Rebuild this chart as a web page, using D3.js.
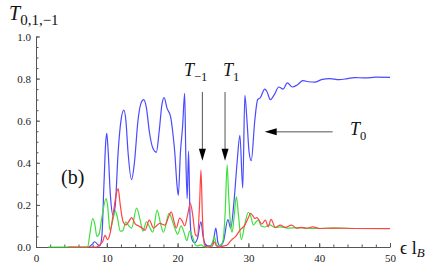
<!DOCTYPE html>
<html>
<head>
<meta charset="utf-8">
<script src="https://cdn.jsdelivr.net/npm/d3@7"></script>
<style>
  body { margin: 0; background: #fff; }
  svg { display: block; }
  text { font-family: "Liberation Serif", "DejaVu Serif", serif; }
</style>
</head>
<body>
<div id="chart"></div>
<script>
// T0 (blue)
const t0E = [7.5, 8.0, 8.3, 8.7, 9.0, 9.3, 9.6, 9.85, 10.0, 10.2, 10.5, 10.9, 11.2, 11.6, 12.0, 12.4, 12.7, 13.0, 13.5, 13.9,
  14.4, 14.8, 15.2, 15.6, 16.0, 16.5, 17.0, 17.4, 17.8, 18.1, 18.5, 19.0, 19.3, 19.6, 19.9, 20.1, 20.4, 20.7, 21.0, 21.15,
  21.35, 21.55, 21.75, 22.0, 22.4, 22.8, 23.3, 23.6, 24.0, 24.5, 25.0, 25.4, 25.7, 26.0, 26.5, 27.1, 27.5, 28.0, 28.4, 28.8,
  29.2, 29.5, 29.8, 30.1, 30.4, 30.9, 31.3, 31.7, 32.3, 32.6, 33.1, 33.6, 34.3, 34.9, 35.5, 36.2, 36.9, 37.7, 38.5, 39.4,
  40.3, 41.5, 42.8, 44.0, 45.0, 46.5, 48.0, 50.0];
const t0V = [0, 0.015, 0.025, 0.012, 0.005, 0.05, 0.3, 0.5, 0.54, 0.45, 0.25, 0.15, 0.2, 0.45, 0.6, 0.65, 0.6, 0.45, 0.32, 0.4,
  0.6, 0.68, 0.70, 0.66, 0.55, 0.47, 0.45, 0.55, 0.68, 0.71, 0.66, 0.62, 0.55, 0.45, 0.3, 0.245, 0.45, 0.57, 0.73, 0.45,
  0.23, 0.455, 0.15, 0.04, 0.02, 0.04, 0.12, 0.05, 0.01, 0.005, 0.02, 0.09, 0.02, 0.005, 0.03, 0.13, 0.09, 0.23, 0.4, 0.53,
  0.28, 0.72, 0.6, 0.45, 0.41, 0.6, 0.70, 0.71, 0.75, 0.74, 0.70, 0.72, 0.76, 0.75, 0.78, 0.76, 0.77, 0.79, 0.785, 0.783,
  0.795, 0.80, 0.795, 0.80, 0.805, 0.803, 0.807, 0.806];

// T1 (green)
const t1E = [1.7, 7.3, 7.6, 8.0, 8.3, 8.6, 8.9, 9.3, 9.9, 10.1, 10.45, 10.8, 11.2, 11.5, 11.9, 12.3, 12.7, 13.1, 13.5, 14.2,
  14.7, 15.1, 15.6, 16.1, 16.5, 17.1, 17.6, 18.0, 18.8, 19.2, 19.7, 20.0, 20.5, 20.9, 21.3, 21.7, 22.1, 22.5, 22.8, 23.3,
  23.7, 24.3, 24.8, 25.2, 25.5, 26.0, 26.4, 26.7, 27.0, 27.2, 27.5, 27.7, 28.0, 28.3, 28.6, 29.0, 29.5, 30.0, 30.3, 30.7,
  31.1, 31.4, 31.8, 32.3, 33.0, 33.8, 34.5, 35.5, 37.0, 39.0, 42.0, 46.0, 50.0];
const t1V = [0, 0, 0.06, 0.135, 0.11, 0.05, 0.06, 0.14, 0.23, 0.2, 0.08, 0.12, 0.17, 0.14, 0.075, 0.08, 0.12, 0.1, 0.09, 0.185,
  0.13, 0.075, 0.12, 0.09, 0.07, 0.175, 0.11, 0.07, 0.16, 0.13, 0.08, 0.06, 0.1, 0.07, 0.03, 0.075, 0.05, 0.01, 0.005, 0.01,
  0.003, 0, 0.01, 0.05, 0.01, 0.005, 0.03, 0.15, 0.39, 0.25, 0.1, 0.07, 0.15, 0.24, 0.15, 0.035, 0.11, 0.165, 0.15, 0.104,
  0.12, 0.128, 0.1, 0.095, 0.105, 0.092, 0.096, 0.09, 0.092, 0.088, 0.09, 0.088, 0.088];

// T-1 (red)
const tmE = [4.5, 8.5, 9.0, 9.4, 9.75, 10.1, 10.5, 11.0, 11.4, 11.6, 11.9, 12.3, 12.7, 13.1, 13.5, 14.0, 14.5, 15.0, 15.4, 16.0,
  16.6, 17.0, 17.5, 18.2, 18.8, 19.1, 19.5, 19.8, 20.3, 20.7, 21.0, 21.4, 21.8, 22.1, 22.5, 22.8, 23.1, 23.3, 23.5, 23.8,
  24.2, 24.9, 25.2, 25.5, 26.0, 26.5, 27.0, 27.6, 28.2, 28.8, 29.5, 30.0, 30.3, 30.6, 30.9, 31.2, 31.9, 32.4, 32.8, 33.2,
  33.8, 34.5, 35.2, 36.1, 36.8, 37.5, 38.3, 39.1, 40.0, 42.0, 45.0, 50.0];
const tmV = [0, 0, 0.01, 0.025, 0.055, 0.035, 0.07, 0.18, 0.26, 0.278, 0.2, 0.12, 0.105, 0.12, 0.14, 0.11, 0.10, 0.09, 0.08, 0.128,
  0.09, 0.1, 0.112, 0.104, 0.15, 0.167, 0.12, 0.09, 0.137, 0.12, 0.1, 0.15, 0.207, 0.16, 0.06, 0.05, 0.2, 0.365, 0.15, 0.01,
  0, 0.005, 0.025, 0.005, 0, 0.005, 0.01, 0.033, 0.05, 0.08, 0.104, 0.14, 0.16, 0.15, 0.136, 0.14, 0.109, 0.128, 0.096, 0.131,
  0.093, 0.104, 0.093, 0.104, 0.089, 0.093, 0.089, 0.096, 0.088, 0.09, 0.088, 0.087];

const xMajor = [0, 10, 20, 30, 40, 50];
const yMajor = [0, 0.2, 0.4, 0.6, 0.8, 1.0];

const width = 437, height = 273;

let svg = d3.select("#chart")
    .append("svg")
    .attr("width", width)
    .attr("height", height);

let x = d3.scaleLinear().domain([0, 50]).range([36, 390]);
let y = d3.scaleLinear().domain([0, 1]).range([247, 36.5]);

// minor ticks first
svg.append("g")
    .attr("transform", `translate(0, ${y(0)})`)
    .call(d3.axisBottom(x).tickValues(d3.range(0, 51, 2)).tickSize(-2.5).tickSizeOuter(0).tickFormat(""))
    .call(g => g.select(".domain").remove());
svg.append("g")
    .attr("transform", `translate(${x(0)}, 0)`)
    .call(d3.axisLeft(y).tickValues(d3.range(0, 21).map(i => i * 0.05)).tickSize(-2.5).tickSizeOuter(0).tickFormat(""))
    .call(g => g.select(".domain").remove());

let xAxis = svg.append("g")
    .attr("transform", `translate(0, ${y(0)})`)
    .call(d3.axisBottom(x).tickValues(xMajor).tickSize(-4).tickSizeOuter(0).tickPadding(7));
let yAxis = svg.append("g")
    .attr("transform", `translate(${x(0)}, 0)`)
    .call(d3.axisLeft(y).tickValues(yMajor).tickSize(-4).tickSizeOuter(0).tickPadding(5).tickFormat(d3.format(".1f")));

svg.selectAll(".tick line").attr("stroke", "#555");
svg.selectAll(".domain").attr("stroke", "#555");
svg.selectAll(".tick text")
    .style("font-family", "'Liberation Serif', serif")
    .style("font-size", "11px")
    .attr("fill", "#222");

// curves
let line = d3.line()
    .x(d => x(d[0]))
    .y(d => y(d[1]))
    .curve(d3.curveMonotoneX);

const series = [
  {e: t0E, v: t0V, color: "#4a4aff"},
  {e: t1E, v: t1V, color: "#3ee03e"},
  {e: tmE, v: tmV, color: "#ff4444"}
];

series.forEach(s => {
  svg.append("path")
      .datum(s.e.map((e, i) => [e, s.v[i]]))
      .attr("fill", "none")
      .attr("stroke", s.color)
      .attr("stroke-width", 1.2)
      .attr("d", line);
});

// arrows
function arrowDown(e, top, tip) {
  let px = x(e);
  svg.append("line")
      .attr("x1", px).attr("x2", px)
      .attr("y1", y(top)).attr("y2", y(tip) - 10)
      .attr("stroke", "#555").attr("stroke-width", 1);
  svg.append("path")
      .attr("d", `M${px - 3.5},${y(tip) - 12} L${px + 3.5},${y(tip) - 12} L${px},${y(tip)} Z`)
      .attr("fill", "#000");
}
arrowDown(23.5, 0.736, 0.41);
arrowDown(26.7, 0.736, 0.41);

let ay = y(0.547);
svg.append("line")
    .attr("x1", x(41.9)).attr("x2", x(32.3) + 10)
    .attr("y1", ay).attr("y2", ay)
    .attr("stroke", "#555").attr("stroke-width", 1);
svg.append("path")
    .attr("d", `M${x(32.3) + 12},${ay - 3.5} L${x(32.3) + 12},${ay + 3.5} L${x(32.3)},${ay} Z`)
    .attr("fill", "#000");

// labels
function label(px, py, main, sub, size, subSize, drop) {
  let t = svg.append("text").attr("x", px).attr("y", py).attr("fill", "#111");
  t.append("tspan").style("font-style", "italic").style("font-size", size + "px").text(main);
  t.append("tspan").style("font-size", subSize + "px").attr("dy", drop).text(sub);
  return t;
}
label(9, 20, "T", "0,1,\u22121", 20, 15, 5);
label(184, 76, "T", "\u22121", 18, 12.5, 5);
label(223, 76, "T", "1", 18, 12.5, 5);
label(350, 135, "T", "0", 18, 12.5, 5);

svg.append("text")
    .attr("x", 61)
    .attr("y", 184)
    .attr("fill", "#111")
    .style("font-size", "20px")
    .text("(b)");

let xl = svg.append("text")
    .attr("x", 400)
    .attr("y", 254)
    .attr("fill", "#111");
xl.append("tspan").style("font-size", "18px").text("\u03F5 l");
xl.append("tspan").style("font-size", "13px").style("font-style", "italic").attr("dy", 3).text("B");
</script>
</body>
</html>
